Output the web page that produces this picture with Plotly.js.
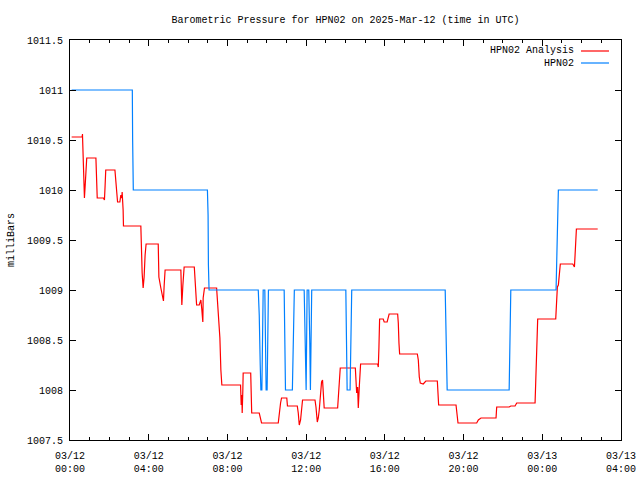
<!DOCTYPE html>
<html>
<head>
<meta charset="utf-8">
<script src="https://cdn.plot.ly/plotly-3.0.1.min.js"></script>
<style>html,body{margin:0;padding:0;background:#fff;}#chart{width:640px;height:480px;}</style>
</head>
<body>
<div id="chart"></div>
<script>
// HPN02 Analysis (red)
const analysisTime = [
"2025-03-12 00:05","2025-03-12 00:37","2025-03-12 00:38","2025-03-12 00:39","2025-03-12 00:41","2025-03-12 00:44","2025-03-12 00:46","2025-03-12 00:49","2025-03-12 00:51",
"2025-03-12 01:19","2025-03-12 01:21","2025-03-12 01:23","2025-03-12 01:42","2025-03-12 01:45","2025-03-12 01:47","2025-03-12 01:49",
"2025-03-12 02:17","2025-03-12 02:19","2025-03-12 02:22","2025-03-12 02:25","2025-03-12 02:32","2025-03-12 02:35","2025-03-12 02:38","2025-03-12 02:39","2025-03-12 02:42","2025-03-12 02:43",
"2025-03-12 03:36","2025-03-12 03:37","2025-03-12 03:40","2025-03-12 03:43","2025-03-12 03:46","2025-03-12 03:49","2025-03-12 03:52",
"2025-03-12 04:29","2025-03-12 04:31","2025-03-12 04:37","2025-03-12 04:40","2025-03-12 04:43","2025-03-12 04:45","2025-03-12 04:47","2025-03-12 04:50",
"2025-03-12 05:38","2025-03-12 05:41","2025-03-12 05:44","2025-03-12 05:48",
"2025-03-12 06:19","2025-03-12 06:21","2025-03-12 06:24","2025-03-12 06:26","2025-03-12 06:34","2025-03-12 06:36","2025-03-12 06:39","2025-03-12 06:42","2025-03-12 06:45","2025-03-12 06:46","2025-03-12 06:50",
"2025-03-12 07:27","2025-03-12 07:30","2025-03-12 07:33","2025-03-12 07:37","2025-03-12 07:40","2025-03-12 07:43",
"2025-03-12 08:40","2025-03-12 08:42","2025-03-12 08:44","2025-03-12 08:45","2025-03-12 08:47","2025-03-12 08:48",
"2025-03-12 09:11","2025-03-12 09:12","2025-03-12 09:14","2025-03-12 09:37","2025-03-12 09:41","2025-03-12 09:44",
"2025-03-12 10:35","2025-03-12 10:38","2025-03-12 10:42","2025-03-12 10:45",
"2025-03-12 11:01","2025-03-12 11:03","2025-03-12 11:33","2025-03-12 11:36","2025-03-12 11:39","2025-03-12 11:43","2025-03-12 11:46","2025-03-12 11:49",
"2025-03-12 12:27","2025-03-12 12:30","2025-03-12 12:34","2025-03-12 12:37","2025-03-12 12:40","2025-03-12 12:44","2025-03-12 12:47","2025-03-12 12:50","2025-03-12 12:52","2025-03-12 12:55",
"2025-03-12 13:36","2025-03-12 13:38","2025-03-12 13:41","2025-03-12 13:44",
"2025-03-12 14:30","2025-03-12 14:34","2025-03-12 14:37","2025-03-12 14:39","2025-03-12 14:42","2025-03-12 14:46",
"2025-03-12 15:38","2025-03-12 15:40","2025-03-12 15:42","2025-03-12 15:44","2025-03-12 15:55","2025-03-12 15:58",
"2025-03-12 16:07","2025-03-12 16:10","2025-03-12 16:13","2025-03-12 16:39","2025-03-12 16:41","2025-03-12 16:43","2025-03-12 16:45",
"2025-03-12 17:39","2025-03-12 17:42","2025-03-12 17:45","2025-03-12 17:48","2025-03-12 17:57","2025-03-12 18:05",
"2025-03-12 18:40","2025-03-12 18:43","2025-03-12 18:44","2025-03-12 19:37","2025-03-12 19:40","2025-03-12 19:43",
"2025-03-12 20:40","2025-03-12 20:45","2025-03-12 20:53","2025-03-12 21:39","2025-03-12 21:41",
"2025-03-12 22:19","2025-03-12 22:24","2025-03-12 22:37","2025-03-12 22:42",
"2025-03-12 23:38","2025-03-12 23:40","2025-03-12 23:43","2025-03-12 23:46",
"2025-03-13 00:41","2025-03-13 00:43","2025-03-13 00:46","2025-03-13 00:49","2025-03-13 00:52","2025-03-13 00:55",
"2025-03-13 01:33","2025-03-13 01:38","2025-03-13 01:40","2025-03-13 01:42","2025-03-13 01:44","2025-03-13 02:49"
];
const analysisValue = [
1010.53,1010.53,1010.56,1010.40,1010.08,1009.92,1010.03,1010.22,1010.32,
1010.32,1010.12,1009.92,1009.92,1009.90,1010.04,1010.20,
1010.20,1010.12,1009.97,1009.88,1009.88,1009.95,1009.92,1009.98,1009.80,1009.64,
1009.64,1009.47,1009.17,1009.02,1009.13,1009.35,1009.46,
1009.46,1009.13,1009.02,1008.98,1008.93,1008.89,1009.04,1009.20,
1009.20,1008.85,1009.04,1009.23,
1009.23,1009.13,1008.93,1008.85,1008.85,1008.88,1008.90,1008.80,1008.68,1008.92,1009.02,
1009.02,1008.87,1008.67,1008.52,1008.20,1008.05,
1008.05,1007.85,1007.95,1007.77,1008.00,1008.17,
1008.17,1007.98,1007.77,1007.77,1007.70,1007.67,
1007.67,1007.77,1007.87,1007.92,
1007.92,1007.84,1007.84,1007.77,1007.65,1007.70,1007.80,1007.90,
1007.90,1007.83,1007.68,1007.72,1007.80,1007.97,1008.08,1008.10,1007.90,1007.82,
1007.82,1007.93,1008.12,1008.22,
1008.22,1007.97,1008.03,1007.82,1008.03,1008.26,
1008.26,1008.23,1008.43,1008.71,1008.71,1008.68,
1008.68,1008.73,1008.76,1008.76,1008.67,1008.47,1008.36,
1008.36,1008.30,1008.13,1008.07,1008.06,1008.09,
1008.09,1007.97,1007.85,1007.85,1007.78,1007.67,
1007.67,1007.70,1007.72,1007.72,1007.83,
1007.83,1007.84,1007.84,1007.87,
1007.87,1008.08,1008.50,1008.71,
1008.71,1008.87,1009.03,1009.05,1009.20,1009.26,
1009.26,1009.23,1009.35,1009.51,1009.61,1009.61
];

// HPN02 observed (blue)
const obsTime = [
"2025-03-12 00:05","2025-03-12 03:10","2025-03-12 03:11","2025-03-12 03:13",
"2025-03-12 06:59","2025-03-12 07:01","2025-03-12 07:02","2025-03-12 07:04",
"2025-03-12 09:34","2025-03-12 09:37","2025-03-12 09:40","2025-03-12 09:42","2025-03-12 09:45","2025-03-12 09:47","2025-03-12 09:49",
"2025-03-12 09:54","2025-03-12 09:56","2025-03-12 09:58","2025-03-12 10:01","2025-03-12 10:03","2025-03-12 10:05",
"2025-03-12 10:53","2025-03-12 10:55","2025-03-12 10:57","2025-03-12 11:18","2025-03-12 11:21","2025-03-12 11:24",
"2025-03-12 11:54","2025-03-12 11:57","2025-03-12 12:00","2025-03-12 12:03","2025-03-12 12:08","2025-03-12 12:11","2025-03-12 12:13","2025-03-12 12:17",
"2025-03-12 14:01","2025-03-12 14:03","2025-03-12 14:05","2025-03-12 14:14","2025-03-12 14:16","2025-03-12 14:19",
"2025-03-12 19:04","2025-03-12 19:07","2025-03-12 19:10",
"2025-03-12 22:19","2025-03-12 22:21","2025-03-12 22:24",
"2025-03-13 00:42","2025-03-13 00:44","2025-03-13 00:47","2025-03-13 00:49","2025-03-13 02:49"
];
const obsValue = [
1011,1011,1010.5,1010,
1010,1009.75,1009.25,1009,
1009,1008.75,1008.25,1008,1008,1008.5,1009,
1009,1008.5,1008,1008,1008.5,1009,
1009,1008.5,1008,1008,1008.5,1009,
1009,1008.5,1008,1009,1009,1008.5,1008,1009,
1009,1008.5,1008,1008,1008.5,1009,
1009,1008.5,1008,
1008,1008.5,1009,
1009,1009.25,1009.75,1010,1010
];

const seriesNames = ["HPN02 Analysis", "HPN02"];
const seriesColors = ["#ff0000", "#0080ff"];
const titleText = "Barometric Pressure for HPN02 on 2025-Mar-12 (time in UTC)";
const yTitle = "milliBars";

const FONT = "Liberation Mono, DejaVu Sans Mono, monospace";

const traces = [
  {x: analysisTime, y: analysisValue, name: seriesNames[0], type: "scatter", mode: "lines",
   line: {color: seriesColors[0], width: 1.2}, showlegend: false},
  {x: obsTime, y: obsValue, name: seriesNames[1], type: "scatter", mode: "lines",
   line: {color: seriesColors[1], width: 1.2}, showlegend: false}
];

// custom gnuplot-style legend (text right, sample line left-to-right after it)
const legRows = [0.9725, 0.9425];
const annotations = seriesNames.map((n, i) => ({
  text: n, xref: "paper", yref: "paper", x: 0.9175, y: legRows[i],
  xanchor: "right", yanchor: "middle", showarrow: false,
  font: {family: FONT, size: 10, color: "#000"}
}));
annotations.push({
  text: yTitle, xref: "paper", yref: "paper", x: -0.107, y: 0.5,
  xanchor: "center", yanchor: "middle", textangle: -90, showarrow: false,
  font: {family: FONT, size: 10, color: "#000"}
});
const shapes = seriesColors.map((c, i) => ({
  type: "line", xref: "paper", yref: "paper", x0: 0.9274, x1: 0.9782,
  y0: legRows[i], y1: legRows[i], line: {color: c, width: 1.2}
}));

const layout = {
  width: 640, height: 480,
  margin: {l: 70, r: 19, t: 40, b: 40},
  paper_bgcolor: "#fff", plot_bgcolor: "#fff",
  font: {family: FONT, size: 10, color: "#000"},
  title: {text: titleText, xref: "paper", x: 0.5, xanchor: "center", yref: "container", y: 0.96, yanchor: "middle",
          font: {family: FONT, size: 10, color: "#000"}},
  showlegend: false,
  xaxis: {
    type: "date", range: ["2025-03-12 00:00", "2025-03-13 04:00"],
    tick0: "2025-03-12 00:00", dtick: 4 * 3600000, tickformat: "%m/%d<br>%H:%M",
    ticks: "inside", ticklen: 6, tickwidth: 1, tickcolor: "#000",
    minor: {dtick: 3600000, ticks: "inside", ticklen: 3, tickwidth: 1, tickcolor: "#000", showgrid: false},
    showline: true, linecolor: "#000", linewidth: 1, mirror: "allticks",
    showgrid: false, zeroline: false, ticklabelstandoff: 6,
    tickfont: {family: FONT, size: 10, color: "#000"}
  },
  yaxis: {
    range: [1007.5, 1011.5], tick0: 1007.5, dtick: 0.5, tickformat: ".1~f",
    ticks: "inside", ticklen: 6, tickwidth: 1, tickcolor: "#000",
    showline: true, linecolor: "#000", linewidth: 1, mirror: "allticks",
    showgrid: false, zeroline: false, ticklabelstandoff: 4,
    tickfont: {family: FONT, size: 10, color: "#000"}
  },
  annotations: annotations,
  shapes: shapes
};

Plotly.newPlot("chart", traces, layout, {staticPlot: true, displayModeBar: false});
</script>
</body>
</html>
